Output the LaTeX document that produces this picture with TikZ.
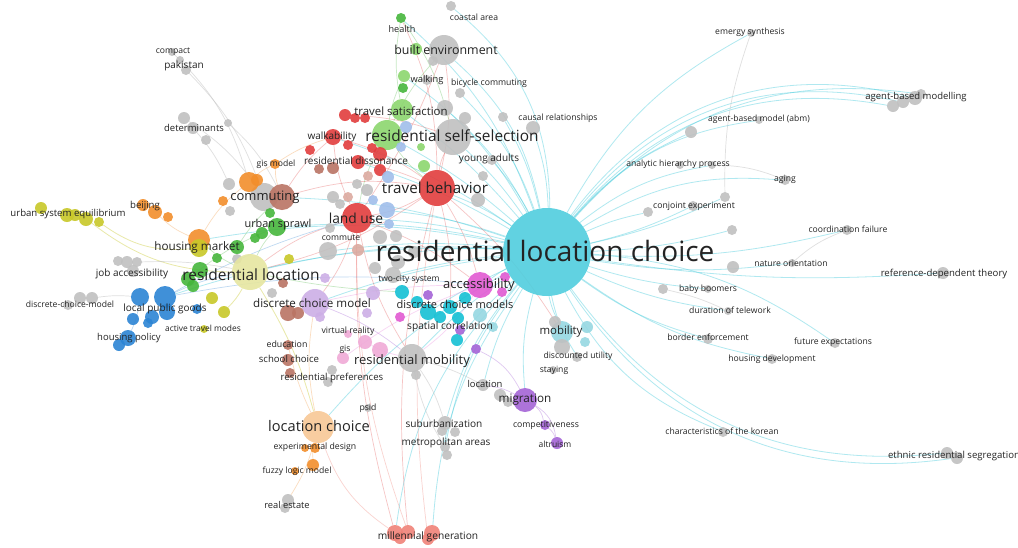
\documentclass[tikz,border=0pt]{standalone}
\usepackage{fontspec}
\setmainfont{Open Sans}
\usetikzlibrary{backgrounds}
\definecolor{cyM}{RGB}{80,206,222}
\definecolor{cyD}{RGB}{20,192,212}
\definecolor{cyL}{RGB}{150,216,226}
\definecolor{rd}{RGB}{226,62,62}
\definecolor{rdL}{RGB}{240,130,120}
\definecolor{gn}{RGB}{70,182,60}
\definecolor{gnL}{RGB}{140,214,110}
\definecolor{gy}{RGB}{192,192,192}
\definecolor{orn}{RGB}{242,142,44}
\definecolor{orL}{RGB}{248,200,150}
\definecolor{olv}{RGB}{200,200,40}
\definecolor{ylL}{RGB}{230,230,160}
\definecolor{bl}{RGB}{44,132,212}
\definecolor{blL}{RGB}{160,190,235}
\definecolor{mg}{RGB}{226,90,210}
\definecolor{pkL}{RGB}{240,170,215}
\definecolor{pu}{RGB}{165,100,215}
\definecolor{puL}{RGB}{205,175,230}
\definecolor{brn}{RGB}{186,116,100}
\definecolor{rs}{RGB}{220,170,160}
\definecolor{labc}{RGB}{35,35,35}
\newcommand\myfs[1]{\fontsize{#1}{#1}\selectfont}
\newcommand\bubn[5]{\node[bub,fill=#5,minimum size=#4pt] (#1) at (#2,-#3) {};}
\newcommand\labn[5]{\node[lab,font=\myfs{#4}] (#1) at (#2,-#3) {#5};}
\begin{document}
\begin{tikzpicture}[x=1pt,y=1pt,
  bub/.style={circle,inner sep=0pt,draw=none,fill opacity=0.9},
  lab/.style={inner sep=0pt,text=labc},
  ec/.style={draw=cyM,line width=0.8pt,draw opacity=0.45},
  er/.style={draw=rd,line width=0.7pt,draw opacity=0.3},
  eg/.style={draw=gn,line width=0.7pt,draw opacity=0.3},
  ey/.style={draw=olv,line width=0.8pt,draw opacity=0.4},
  eo/.style={draw=orn,line width=0.7pt,draw opacity=0.3},
  egy/.style={draw=gy,line width=0.7pt,draw opacity=0.5},
  ep/.style={draw=pu,line width=0.7pt,draw opacity=0.35},
  eb/.style={draw=bl,line width=0.7pt,draw opacity=0.3},
  epk/.style={draw=mg,line width=0.7pt,draw opacity=0.25},
  eml/.style={draw=rdL,line width=0.7pt,draw opacity=0.35}]
\useasboundingbox (0,0) rectangle (1018,-547);
% ---------------- bubbles ----------------
\bubn{M}{547}{252}{88}{cyM}
% top cluster
\bubn{coastal}{451}{6}{10}{gy}
\bubn{health}{401}{18}{10}{gn}
\bubn{beg}{416}{49}{12}{gnL}
\bubn{be}{444}{50}{30}{gy}
\bubn{bg1}{433}{61}{10}{gy}
\bubn{walk1}{404}{76}{12}{gnL}
\bubn{walk2}{403}{88}{10}{gn}
\bubn{walkg}{427}{80}{10}{gy}
\bubn{bic}{460}{93}{10}{gy}
\bubn{g1}{445}{108}{16}{gy}
\bubn{g2}{465}{118}{12}{gy}
\bubn{ts}{402}{110}{22}{gnL}
\bubn{rssg}{387}{135}{30}{gnL}
\bubn{rss}{453}{137}{36}{gy}
\bubn{bl1}{406}{127}{12}{blL}
\bubn{bl2}{401}{147}{10}{blL}
\bubn{gr3}{421}{147}{8}{gnL}
\bubn{causa}{503}{117}{10}{gy}
\bubn{causb}{533}{128}{14}{gy}
\bubn{young}{492}{160}{10}{gy}
\bubn{tbg2}{483}{176}{10}{gy}
\bubn{tbg1}{478}{200}{14}{gy}
\bubn{tb}{437}{188}{36}{rd}
\bubn{gr4}{424}{166}{12}{gnL}
% red cluster
\bubn{r1}{345}{115}{12}{rd}
\bubn{r2}{355}{118}{10}{rd}
\bubn{r3}{365}{118}{10}{rd}
\bubn{walkab}{333}{137}{16}{rd}
\bubn{r4}{310}{150}{10}{rd}
\bubn{r5}{348}{145}{10}{rd}
\bubn{r6}{372}{148}{10}{rd}
\bubn{r7}{380}{154}{14}{rd}
\bubn{r8}{358}{162}{14}{rd}
\bubn{r9}{380}{170}{12}{rd}
\bubn{b1}{319}{169}{10}{brn}
\bubn{b2}{333}{168}{12}{brn}
\bubn{rs1}{368}{176}{10}{rs}
\bubn{bl3}{388}{177}{12}{blL}
\bubn{g5}{357}{184}{10}{gy}
\bubn{g6}{367}{190}{12}{gy}
\bubn{g7}{333}{197}{12}{gy}
\bubn{g8}{340}{204}{10}{gy}
\bubn{rs2}{348}{197}{10}{rs}
\bubn{bl4}{373}{200}{10}{blL}
\bubn{bl5}{387}{210}{16}{blL}
\bubn{bl6}{389}{224}{10}{blL}
\bubn{lu}{357}{218}{30}{rd}
\bubn{g9}{380}{237}{14}{gy}
\bubn{g10}{330}{228}{10}{gy}
\bubn{g11}{328}{251}{18}{gy}
\bubn{rs3}{358}{250}{12}{rs}
\bubn{g12}{396}{236}{12}{gy}
\bubn{g13}{414}{252}{12}{gy}
\bubn{g14}{398}{262}{14}{gy}
% commuting cluster
\bubn{comg}{264}{197}{28}{gy}
\bubn{comb}{282}{197}{26}{brn}
\bubn{o1}{249}{182}{20}{orn}
\bubn{o2}{257}{180}{12}{orn}
\bubn{g15}{229}{184}{12}{gy}
\bubn{o3}{223}{201}{10}{orn}
\bubn{g16}{230}{211}{10}{gy}
\bubn{gis}{275}{164}{10}{orn}
\bubn{us}{277}{227}{18}{gn}
\bubn{gn1}{270}{213}{10}{gn}
\bubn{gn2}{262}{233}{12}{gn}
\bubn{gn3}{255}{238}{10}{gn}
\bubn{hmo}{199}{240}{22}{orn}
\bubn{hmy}{199}{248}{18}{olv}
\bubn{gn4}{237}{247}{14}{gn}
\bubn{gn5}{217}{258}{10}{gn}
\bubn{g17}{237}{259}{10}{gy}
\bubn{rl}{250}{272}{36}{ylL}
\bubn{gn6}{200}{270}{16}{gn}
\bubn{gn7}{188}{279}{14}{gn}
\bubn{gn8}{193}{286}{12}{gn}
\bubn{y1}{289}{259}{10}{olv}
\bubn{ja1}{118}{261}{10}{gy}
\bubn{ja2}{127}{262}{12}{gy}
\bubn{ja3}{137}{262}{10}{gy}
\bubn{ja4}{133}{271}{12}{gy}
\bubn{dcm1}{68}{305}{10}{gy}
\bubn{dcm2}{80}{298}{12}{gy}
\bubn{dcm3}{92}{298}{12}{gy}
\bubn{lpa}{140}{297}{18}{bl}
\bubn{lpb}{165}{297}{22}{bl}
\bubn{lpc}{167}{312}{16}{bl}
\bubn{lpd}{133}{319}{12}{bl}
\bubn{lpe}{148}{323}{10}{bl}
\bubn{lpf}{152}{317}{14}{bl}
\bubn{lpg}{197}{309}{10}{bl}
\bubn{hp1}{128}{338}{16}{bl}
\bubn{hp2}{119}{345}{12}{bl}
\bubn{at1}{204}{329}{8}{olv}
\bubn{at2}{224}{312}{12}{olv}
\bubn{at3}{212}{298}{12}{olv}
\bubn{bj1}{143}{205}{12}{orn}
\bubn{bj2}{155}{212}{14}{orn}
\bubn{bj3}{168}{217}{10}{orn}
\bubn{u1}{41}{208}{12}{olv}
\bubn{u2}{67}{215}{14}{olv}
\bubn{u3}{75}{215}{12}{olv}
\bubn{u4}{86}{219}{14}{olv}
\bubn{u5}{99}{222}{10}{olv}
\bubn{d1}{184}{118}{12}{gy}
\bubn{d2}{193}{128}{12}{gy}
\bubn{d3}{206}{140}{10}{gy}
\bubn{d4}{228}{123}{8}{gy}
\bubn{pak}{186}{70}{10}{gy}
\bubn{cmp}{172}{52}{8}{gy}
\bubn{cmp2}{180}{60}{8}{gy}
% discrete choice model cluster
\bubn{dcm}{315}{303}{28}{puL}
\bubn{br1}{288}{313}{16}{brn}
\bubn{br2}{298}{313}{12}{brn}
\bubn{br3}{283}{283}{10}{brn}
\bubn{pl1}{325}{278}{10}{puL}
\bubn{pl2}{320}{317}{10}{puL}
\bubn{pl3}{373}{293}{14}{puL}
\bubn{pl4}{367}{313}{10}{puL}
\bubn{g18}{272}{293}{10}{gy}
\bubn{edu}{288}{345}{10}{brn}
\bubn{sc}{288}{360}{12}{brn}
\bubn{rp}{290}{373}{10}{brn}
\bubn{g19}{332}{370}{10}{gy}
\bubn{g20}{328}{382}{10}{gy}
\bubn{vr}{365}{342}{14}{pkL}
\bubn{pk2}{380}{350}{16}{pkL}
\bubn{gisp}{343}{358}{12}{pkL}
\bubn{pk3}{348}{334}{8}{pkL}
\bubn{mg1}{400}{317}{10}{mg}
\bubn{rm}{412}{358}{28}{gy}
\bubn{g21}{416}{375}{10}{gy}
\bubn{tc}{393}{275}{16}{gy}
\bubn{g22}{375}{268}{12}{gy}
\bubn{acc}{480}{285}{26}{mg}
\bubn{mg2}{505}{277}{10}{mg}
\bubn{mg3}{502}{292}{10}{mg}
\bubn{c1}{402}{292}{14}{cyD}
\bubn{c2}{417}{302}{12}{cyD}
\bubn{c3}{428}{312}{16}{cyD}
\bubn{c4}{440}{317}{12}{cyD}
\bubn{c5}{450}{307}{14}{cyD}
\bubn{c6}{458}{318}{12}{cyD}
\bubn{c7}{457}{340}{12}{cyD}
\bubn{c8}{465}{298}{12}{cyD}
\bubn{c9}{480}{315}{14}{cyL}
\bubn{c10}{493}{327}{10}{cyL}
\bubn{p1}{428}{295}{10}{pu}
\bubn{p2}{460}{330}{10}{pu}
\bubn{p3}{476}{349}{10}{pu}
\bubn{mob}{562}{332}{22}{cyL}
\bubn{mob2}{587}{327}{12}{cyL}
\bubn{mob3}{585}{342}{10}{cyL}
\bubn{g23}{555}{322}{12}{gy}
\bubn{g24}{562}{347}{16}{gy}
\bubn{du}{577}{357}{10}{gy}
\bubn{stay}{553}{370}{8}{gy}
\bubn{loc}{483}{385}{12}{gy}
\bubn{g25}{500}{395}{12}{gy}
\bubn{g26}{508}{402}{10}{gy}
\bubn{mig}{525}{400}{24}{pu}
\bubn{comp}{545}{425}{10}{pu}
\bubn{alt}{557}{443}{12}{pu}
\bubn{psid}{368}{408}{8}{gy}
\bubn{sub}{445}{423}{14}{gy}
\bubn{sub2}{455}{432}{10}{gy}
\bubn{sub3}{442}{431}{10}{gy}
\bubn{met}{445}{447}{10}{gy}
\bubn{met2}{447}{455}{10}{gy}
\bubn{mil1}{395}{533}{16}{rdL}
\bubn{mil2}{408}{532}{14}{rdL}
\bubn{mil3}{432}{533}{16}{rdL}
\bubn{mil4}{428}{539}{12}{rdL}
\bubn{mil5}{400}{538}{12}{rdL}
\bubn{lc}{318}{427}{32}{orL}
\bubn{ed1}{305}{448}{8}{orn}
\bubn{ed2}{315}{448}{10}{orn}
\bubn{fz1}{313}{465}{12}{orn}
\bubn{fz2}{295}{471}{8}{orn}
\bubn{re1}{288}{500}{12}{gy}
\bubn{re2}{285}{508}{10}{gy}
% right side
\bubn{em}{751}{33}{8}{gy}
\bubn{ab1}{893}{106}{12}{gy}
\bubn{ab2}{903}{102}{12}{gy}
\bubn{ab3}{915}{98}{14}{gy}
\bubn{ab4}{921}{94}{10}{gy}
\bubn{abm}{759}{120}{8}{gy}
\bubn{g27}{691}{132}{12}{gy}
\bubn{ahp}{712}{165}{8}{gy}
\bubn{ahp2}{680}{165}{8}{gy}
\bubn{aging}{785}{180}{10}{gy}
\bubn{cj1}{725}{197}{10}{gy}
\bubn{cj2}{693}{206}{10}{gy}
\bubn{cj3}{648}{212}{10}{gy}
\bubn{g28}{732}{230}{10}{gy}
\bubn{g29}{733}{267}{12}{gy}
\bubn{cf}{847}{230}{10}{gy}
\bubn{nat}{792}{263}{8}{gy}
\bubn{rdt}{943}{273}{12}{gy}
\bubn{bb0}{663}{289}{10}{gy}
\bubn{bb}{708}{289}{8}{gy}
\bubn{tw}{728}{311}{8}{gy}
\bubn{bor}{708}{339}{10}{gy}
\bubn{fut}{835}{343}{10}{gy}
\bubn{hd}{772}{359}{10}{gy}
\bubn{kor}{723}{432}{10}{gy}
\bubn{eth1}{947}{453}{12}{gy}
\bubn{eth2}{957}{458}{12}{gy}
% ---------------- labels ----------------
\labn{lM}{545}{251}{28}{residential location choice}
\labn{lcoastal}{474}{17}{8.6}{coastal area}
\labn{lhealth}{402}{29}{9.1}{health}
\labn{lbe}{446}{50}{12.4}{built environment}
\labn{lwalk}{427}{80}{9.3}{walking}
\labn{lbic}{489}{83}{8.7}{bicycle commuting}
\labn{lts}{401}{111}{11.4}{travel satisfaction}
\labn{lrss}{452}{136}{15.4}{residential self-selection}
\labn{lcaus}{558}{118}{8.6}{causal relationships}
\labn{lyoung}{489}{159}{10}{young adults}
\labn{ltb}{435}{188}{15.2}{travel behavior}
\labn{lwalkab}{332}{137}{10}{walkability}
\labn{lrd}{356}{161}{10}{residential dissonance}
\labn{llu}{356}{218}{13.8}{land use}
\labn{lcommute}{341}{238}{8.6}{commute}
\labn{lgis}{276}{164}{8.6}{gis model}
\labn{lcom}{265}{197}{13}{commuting}
\labn{lus}{278}{225}{10.9}{urban sprawl}
\labn{lhm}{197}{247}{11.7}{housing market}
\labn{lrl}{251}{275}{15.5}{residential location}
\labn{lja}{132}{274}{10}{job accessibility}
\labn{ldcmm}{70}{304}{8.6}{discrete-choice-model}
\labn{llpg}{165}{309}{10}{local public goods}
\labn{lat}{203}{328}{8.4}{active travel modes}
\labn{lhp}{129}{338}{9.5}{housing policy}
\labn{luse}{68}{214}{9.6}{urban system equilibrium}
\labn{lbj}{145}{206}{9.6}{beijing}
\labn{ldet}{194}{128}{9.5}{determinants}
\labn{lpak}{184}{66}{10}{pakistan}
\labn{lcmp}{173}{52}{8.6}{compact}
\labn{ldcm}{312}{303}{11.6}{discrete choice model}
\labn{ltc}{409}{279}{8.5}{two-city system}
\labn{lvr}{348}{331}{8.7}{virtual reality}
\labn{lgisp}{345}{349}{8.6}{gis}
\labn{ledu}{287}{344}{8.8}{education}
\labn{lsc}{289}{359}{9.6}{school choice}
\labn{lrp}{332}{378}{9.6}{residential preferences}
\labn{lrm}{412}{361}{13}{residential mobility}
\labn{lacc}{479}{285}{13}{accessibility}
\labn{ldcms}{455}{304}{11}{discrete choice models}
\labn{lsp}{450}{327}{10.2}{spatial correlation}
\labn{lmob}{561}{332}{11.4}{mobility}
\labn{ldu}{578}{356}{8.6}{discounted utility}
\labn{lstay}{554}{370}{8.6}{staying}
\labn{lloc}{485}{384}{9.4}{location}
\labn{lmig}{525}{400}{11.7}{migration}
\labn{lcomp}{546}{425}{8.7}{competitiveness}
\labn{lalt}{555}{444}{8.5}{altruism}
\labn{lpsid}{368}{408}{8.6}{psid}
\labn{lsub}{444}{424}{10.1}{suburbanization}
\labn{lmet}{446}{443}{10}{metropolitan areas}
\labn{lmil}{428}{537}{10.2}{millennial generation}
\labn{llc}{319}{426}{14.6}{location choice}
\labn{led}{315}{447}{8.7}{experimental design}
\labn{lfz}{297}{471}{8.6}{fuzzy logic model}
\labn{lre}{287}{505}{9.3}{real estate}
\labn{lem}{750}{32}{8.6}{emergy synthesis}
\labn{labm}{916}{97}{9.5}{agent-based modelling}
\labn{labm2}{759}{119}{8.5}{agent-based model (abm)}
\labn{lahp}{678}{164}{8.6}{analytic hierarchy process}
\labn{laging}{785}{179}{8.6}{aging}
\labn{lcj}{694}{206}{8.7}{conjoint experiment}
\labn{lcf}{848}{229}{8.6}{coordination failure}
\labn{lnat}{791}{263}{8.6}{nature orientation}
\labn{lrdt}{944}{274}{9.6}{reference-dependent theory}
\labn{lbb}{708}{289}{8.6}{baby boomers}
\labn{ltw}{730}{310}{8.6}{duration of telework}
\labn{lbor}{708}{337}{8.6}{border enforcement}
\labn{lfut}{833}{342}{8.6}{future expectations}
\labn{lhd}{772}{359}{8.6}{housing development}
\labn{lkor}{722}{431}{8.6}{characteristics of the korean}
\labn{leth}{954}{456}{9.6}{ethnic residential segregation}
% ---------------- links ----------------
\begin{scope}[on background layer]
\fill[white] (0,0) rectangle (1018,-547);
% cyan, from the main node
\draw[ec] (M) to[bend right=25] (coastal);
\draw[ec] (M) to[bend right=18] (be);
\draw[ec] (M) to[bend right=12] (bic);
\draw[ec] (M) to[bend right=8] (causb);
\draw[ec] (M) to[bend right=8] (causa);
\draw[ec] (M) to[bend right=10] (g1);
\draw[ec] (M) to[bend right=12] (walk1);
\draw[ec] (M) to[bend right=14] (health);
\draw[ec] (M) to[bend left=16] (em);
\draw[ec] (M) to[bend left=30] (ab1);
\draw[ec] (M) to[bend left=32] (ab2);
\draw[ec] (M) to[bend left=34] (ab3);
\draw[ec] (M) to[bend left=28] (ab4);
\draw[ec] (M) to[bend left=20] (abm);
\draw[ec] (M) to[bend left=12] (g27);
\draw[ec] (M) to[bend left=14] (ahp);
\draw[ec] (M) to[bend left=18] (aging);
\draw[ec] (M) to[bend right=6] (cj1);
\draw[ec] (M) to[bend right=6] (cj2);
\draw[ec] (M) to[bend left=6] (cj3);
\draw[ec] (M) to[bend right=8] (cf);
\draw[ec] (M) to[bend right=8] (nat);
\draw[ec] (M) to[bend right=6] (rdt);
\draw[ec] (M) to[bend right=6] (g28);
\draw[ec] (M) to[bend right=6] (bb);
\draw[ec] (M) to[bend right=8] (tw);
\draw[ec] (M) to[bend right=10] (bor);
\draw[ec] (M) to[bend left=15] (fut);
\draw[ec] (M) to[bend right=12] (hd);
\draw[ec] (M) to[bend right=20] (kor);
\draw[ec] (M) to[bend right=30] (eth1);
\draw[ec] (M) to[bend right=32] (eth2);
\draw[ec] (M) to[bend right=8] (mob);
\draw[ec] (M) to[bend right=10] (du);
\draw[ec] (M) to[bend right=10] (mig);
\draw[ec] (M) to[bend right=12] (sub);
\draw[ec] (M) to[bend right=14] (met);
\draw[ec] (M) to[bend right=16] (mil3);
\draw[ec] (M) to[bend right=18] (mil1);
\draw[ec] (M) to[bend right=8] (loc);
\draw[ec] (M) to[bend right=6] (tb);
\draw[ec] (M) to[bend right=6] (lu);
\draw[ec] (M) to[bend right=8] (comb);
\draw[ec] (M) to[bend right=8] (rl);
\draw[ec] (M) to[bend right=10] (hmo);
\draw[ec] (M) to[bend right=10] (lpb);
\draw[ec] (M) to[bend right=6] (dcm);
\draw[ec] (M) to[bend right=4] (c3);
\draw[ec] (M) to[bend right=4] (c7);
\draw[ec] (M) to[bend right=6] (rm);
\draw[ec] (M) to[bend right=4] (acc);
\draw[ec] (M) to[bend right=6] (rss);
\draw[ec] (M) to[bend right=6] (rssg);
\draw[ec] (M) to[bend right=6] (ts);
\draw[ec] (M) to[bend right=6] (young);
\draw[ec] (M) to[bend right=8] (walkab);
\draw[ec] (M) to[bend right=8] (us);
\draw[ec] (M) to[bend right=10] (lc);
\draw[ec] (M) to[bend right=6] (g11);
\draw[ec] (M) to[bend right=4] (tc);
\draw[ec] (M) to[bend right=4] (g13);
\draw[ec] (M) to[bend right=6] (bl5);
\draw[ec] (M) to[bend right=6] (r8);
% red
\draw[er] (tb) to[bend left=10] (lu);
\draw[er] (tb) to[bend right=10] (walkab);
\draw[er] (tb) to[bend left=10] (rss);
\draw[er] (tb) to[bend right=12] (comb);
\draw[er] (tb) to[bend left=10] (rl);
\draw[er] (tb) to[bend right=10] (mil2);
\draw[er] (lu) to[bend right=8] (mil1);
\draw[er] (lu) to[bend left=10] (dcm);
\draw[er] (tb) to[bend right=10] (be);
\draw[er] (tb) to[bend right=12] (health);
\draw[er] (lu) to[bend left=10] (walkab);
\draw[er] (tb) to[bend right=6] (r8);
\draw[er] (tb) to[bend left=8] (acc);
\draw[er] (tb) to[bend left=8] (c5);
\draw[er] (tb) to[bend left=8] (mob);
\draw[er] (lu) to[bend left=8] (acc);
\draw[er] (walkab) to[bend right=8] (comb);
\draw[er] (r1) to[bend left=8] (rss);
\draw[er] (lu) to[bend right=10] (rl);
\draw[er] (lu) to[bend right=10] (rm);
\draw[er] (lu) to[bend right=6] (be);
% green
\draw[eg] (rss) to[bend right=10] (health);
\draw[eg] (rssg) to[bend left=8] (walk1);
\draw[eg] (ts) to[bend left=10] (health);
\draw[eg] (rssg) to[bend left=8] (be);
\draw[eg] (rssg) to[bend right=8] (tb);
\draw[eg] (rssg) to[bend right=10] (lu);
\draw[eg] (rl) to[bend left=8] (us);
\draw[eg] (rl) to[bend left=8] (hmo);
\draw[eg] (rl) to[bend right=4] (c1);
\draw[eg] (gn4) to[bend left=8] (comb);
\draw[eg] (gn7) to[bend left=8] (us);
% yellow, orange, grey
\draw[ey] (u5) to[bend right=20] (hmy);
\draw[ey] (u4) to[bend right=18] (rl);
\draw[ey] (rl) to[bend left=8] (at2);
\draw[ey] (rl) to[bend left=8] (lc);
\draw[eo] (lc) to[bend left=8] (re1);
\draw[eo] (lc) to[bend right=8] (fz1);
\draw[eo] (lc) to[bend left=6] (edu);
\draw[eo] (lc) to[bend left=10] (dcm);
\draw[eo] (hmo) to[bend left=10] (bj2);
\draw[eo] (hmo) to[bend left=10] (o1);
\draw[eo] (o1) to[bend left=8] (gis);
\draw[eo] (gis) to[bend left=8] (walkab);
\draw[eo] (comb) to[bend left=8] (gis);
\draw[eml] (mil1) to[bend left=18] (lc);
\draw[eml] (mil2) to[bend left=10] (lu);
\draw[eml] (mil4) to[bend left=8] (tb);
\draw[egy] (pak) to[bend left=12] (comg);
\draw[egy] (cmp) to[bend left=14] (o1);
\draw[egy] (d1) to[bend left=10] (comg);
\draw[egy] (d2) to[bend left=8] (g15);
\draw[egy] (d4) to[bend left=10] (comb);
\draw[egy] (ja3) to[bend left=6] (rl);
\draw[egy] (dcm3) to[bend left=6] (lpa);
\draw[egy] (rm) to[bend left=8] (sub);
\draw[egy] (rm) to[bend left=6] (loc);
\draw[egy] (rm) to[bend right=10] (met);
\draw[egy] (em) to[bend right=10] (cj1);
\draw[egy] (ahp) to[bend left=10] (aging);
\draw[egy] (nat) to[bend left=10] (cf);
\draw[egy] (bb0) to[bend left=6] (tw);
% purple, blue, pink
\draw[ep] (mig) to[bend left=20] (comp);
\draw[ep] (mig) to[bend left=25] (alt);
\draw[ep] (comp) to[bend left=15] (alt);
\draw[ep] (mig) to[bend right=10] (loc);
\draw[ep] (mig) to[bend right=18] (p3);
\draw[ep] (dcm) to[bend left=8] (rm);
\draw[eb] (lpb) to[bend left=8] (rl);
\draw[eb] (hp1) to[bend right=8] (lpa);
\draw[eb] (lpb) to[bend left=8] (acc);
\draw[eb] (lpb) to[bend left=6] (lu);
\draw[epk] (rm) to[bend left=8] (vr);
\draw[epk] (rm) to[bend right=10] (acc);
\draw[epk] (gisp) to[bend left=8] (acc);
\draw[epk] (dcm) to[bend left=6] (acc);
\end{scope}
\end{tikzpicture}
\end{document}
